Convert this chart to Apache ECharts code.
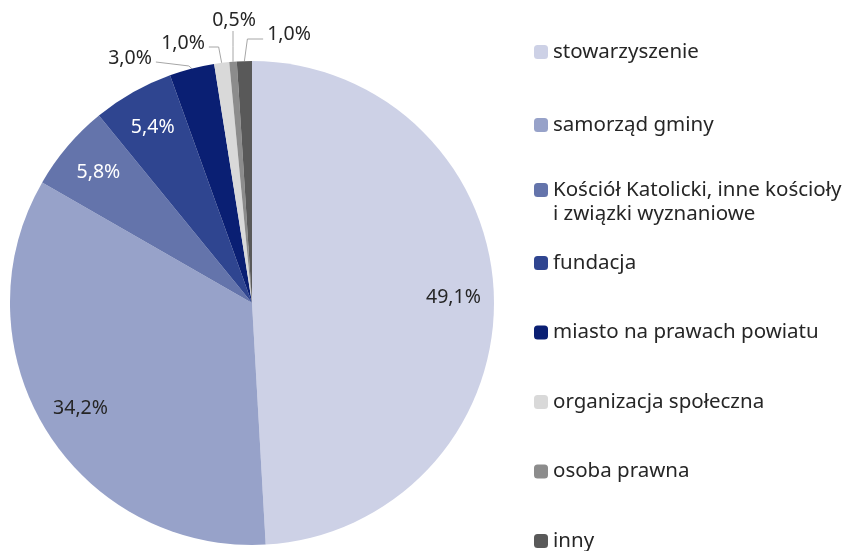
<!DOCTYPE html>
<html>
<head>
<meta charset="utf-8">
<script src="https://cdn.jsdelivr.net/npm/echarts@6/dist/echarts.min.js"></script>
<style>
  html, body { margin: 0; padding: 0; background: #fff; }
  #chart { width: 853px; height: 551px; }
</style>
</head>
<body>
<div id="chart"></div>
<script>
const names = [
  'stowarzyszenie',
  'samorząd gminy',
  'Kościół Katolicki, inne kościoły\ni związki wyznaniowe',
  'fundacja',
  'miasto na prawach powiatu',
  'organizacja społeczna',
  'osoba prawna',
  'inny'
]
const values = [49.1, 34.2, 5.8, 5.4, 3.0, 1.0, 0.5, 1.0]
const colors = ['#cdd1e6', '#97a2c9', '#6474ab', '#2f4590', '#0a1f73', '#d9d9d9', '#8c8c8c', '#595959']
const labelColors = ['#262626', '#262626', '#ffffff', '#ffffff']

const FONT = '"Noto Sans", sans-serif'
const fmt = p => p.value.toFixed(1).replace('.', ',') + '%'

// where the small outside labels sit (label centre) and which side the leader enters
const outerLabels = {
  4: { x: 130, y: 58, side: 'right' },
  5: { x: 183, y: 43, side: 'right' },
  6: { x: 234, y: 20, side: 'bottom' },
  7: { x: 289, y: 34, side: 'left' }
}

const myChart = echarts.init(document.getElementById('chart'))

const mainData = names.map((n, i) => ({
  name: n,
  value: values[i],
  itemStyle: { color: colors[i] },
  label: { show: i >= 4 },
  labelLine: { show: i >= 4 }
}))

const innerData = names.map((n, i) => ({
  name: n,
  value: values[i],
  itemStyle: { color: 'rgba(0,0,0,0)' },
  label: { show: i < 4, color: labelColors[i] || '#262626' }
}))

const legendText = { fontFamily: FONT, fontSize: 20.5, color: '#262626', lineHeight: 24 }
const legendBase = {
  orient: 'vertical',
  left: 534,
  padding: 0,
  icon: 'roundRect',
  itemWidth: 14,
  itemHeight: 14,
  selectedMode: false,
  textStyle: legendText
}

myChart.setOption({
  animation: false,
  legend: [Object.assign({}, legendBase, {
    data: names.slice(0, 2),
    top: 40,
    itemGap: 49
  }), Object.assign({}, legendBase, {
    data: names.slice(2, 3),
    top: 154,
    // empty first line so the marker lines up with the first text line
    formatter: name => '\n' + name
  }), Object.assign({}, legendBase, {
    data: names.slice(3),
    top: 251,
    height: 330,
    itemGap: 45.5
  })],
  series: [{
    type: 'pie',
    center: [252, 303],
    radius: [0, 242],
    startAngle: 90,
    clockwise: true,
    avoidLabelOverlap: false,
    data: mainData,
    label: {
      position: 'outside',
      formatter: fmt,
      fontFamily: FONT,
      fontSize: 19.5,
      color: '#262626'
    },
    labelLine: {
      length: 10,
      length2: 20,
      lineStyle: { color: '#a6a6a6', width: 1 }
    },
    labelLayout: function (params) {
      const o = outerLabels[params.dataIndex]
      if (!o || !params.labelLinePoints) return {}
      const a = params.labelLinePoints[0]
      const w = params.labelRect.width
      const h = params.labelRect.height
      let end, elbow
      if (o.side === 'right') {
        end = [o.x + w / 2 + 4, o.y + 4]
        elbow = [a[0] - 3, o.y + 4 + (a[1] - o.y - 4) * 0.6]
        if (params.dataIndex === 5) elbow = [a[0] - 3, o.y + 4]
      } else if (o.side === 'left') {
        end = [o.x - w / 2 - 4, o.y + 5]
        elbow = [a[0] + 3, o.y + 5]
      } else {
        end = [a[0], o.y + h / 2 + 1]
        elbow = [a[0], (a[1] + end[1]) / 2]
      }
      return {
        x: o.x,
        y: o.y,
        align: 'center',
        verticalAlign: 'middle',
        labelLinePoints: [a, elbow, end]
      }
    },
    emphasis: { disabled: true }
  }, {
    type: 'pie',
    center: [252, 303],
    radius: [155, 242],
    startAngle: 90,
    clockwise: true,
    silent: true,
    data: innerData,
    label: {
      position: 'inside',
      formatter: fmt,
      fontFamily: FONT,
      fontSize: 19.5
    },
    labelLine: { show: false },
    emphasis: { disabled: true }
  }]
})
</script>
</body>
</html>
